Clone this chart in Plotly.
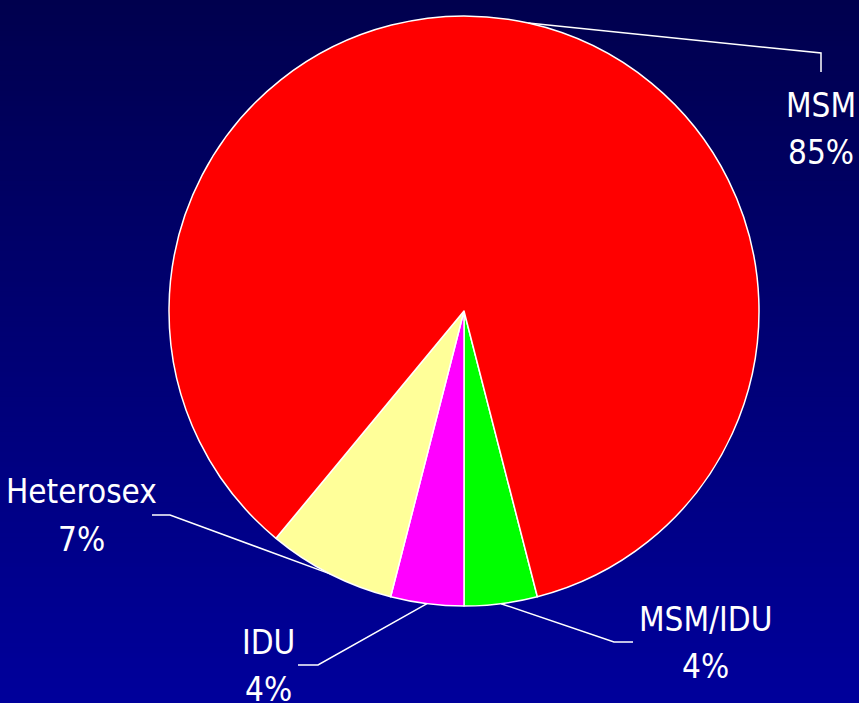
import math
import plotly.graph_objects as go

# Transmission category shares (%)
categories = ["MSM/IDU", "IDU", "Heterosex", "MSM"]
shares = [4, 4, 7, 85]
slice_colors = ["#00FF00", "#FF00FF", "#FFFF99", "#FF0000"]

W, H = 859, 703
CX, CY, R = 464, 311, 295          # pie centre and radius in pixels
ROTATION = 180 - shares[0] * 3.6    # first slice ends at 6 o'clock

FONT = "DejaVu Sans Condensed, Liberation Sans Narrow, Arial Narrow, sans-serif"


def px(x):
    return x / W


def py(y):
    return 1 - y / H


fig = go.Figure()
fig.add_trace(go.Pie(
    labels=categories,
    values=shares,
    sort=False,
    direction="clockwise",
    rotation=ROTATION,
    marker=dict(colors=slice_colors, line=dict(color="white", width=1.5)),
    textinfo="none",
    hoverinfo="label+percent",
    showlegend=False,
    domain=dict(x=[px(CX - R), px(CX + R)], y=[py(CY + R), py(CY - R)]),
))

# Vertical background gradient, dark navy to blue
shapes = []
bands = 140
top, bottom = (0, 0, 78), (0, 0, 155)
for i in range(bands):
    t = i / (bands - 1)
    c = tuple(round(top[k] + (bottom[k] - top[k]) * t) for k in range(3))
    shapes.append(dict(
        type="rect", xref="paper", yref="paper", layer="below",
        x0=0, x1=1, y0=1 - (i + 1) / bands - 0.002, y1=1 - i / bands,
        fillcolor=f"rgb{c}", line=dict(width=0),
    ))

# Leader-line elbows and label placement (centre x, name row y, percent row y)
label_layout = {
    "MSM":       dict(elbow=(821, 53), end=(821, 72), text=(821, 105, 152)),
    "Heterosex": dict(elbow=(170, 515), end=(152, 515), text=(81, 491, 539)),
    "IDU":       dict(elbow=(318, 665), end=(298, 665), text=(268, 642, 689)),
    "MSM/IDU":   dict(elbow=(614, 642), end=(633, 642), text=(705, 619, 666)),
}

annotations = []
cum = 0.0
for name, val in zip(categories, shares):
    mid = ROTATION + (cum + val / 2) * 3.6
    cum += val
    a = math.radians(mid)
    sx, sy = CX + R * math.sin(a), CY - R * math.cos(a)
    lay = label_layout[name]
    ex, ey = lay["elbow"]
    fx, fy = lay["end"]
    path = f"M {px(sx)} {py(sy)} L {px(ex)} {py(ey)} L {px(fx)} {py(fy)}"
    shapes.append(dict(type="path", xref="paper", yref="paper", path=path,
                       line=dict(color="white", width=1.5)))
    tx, ny, vy = lay["text"]
    for txt, yy in ((name, ny), (f"{val}%", vy)):
        annotations.append(dict(
            x=px(tx), y=py(yy), xref="paper", yref="paper",
            text=txt, showarrow=False,
            xanchor="center", yanchor="middle", align="center",
            font=dict(family=FONT, size=33, color="white"),
        ))

fig.update_layout(
    width=W, height=H,
    margin=dict(l=0, r=0, t=0, b=0),
    paper_bgcolor="#00004E",
    plot_bgcolor="#00004E",
    shapes=shapes,
    annotations=annotations,
)

fig.write_html("out.html")
